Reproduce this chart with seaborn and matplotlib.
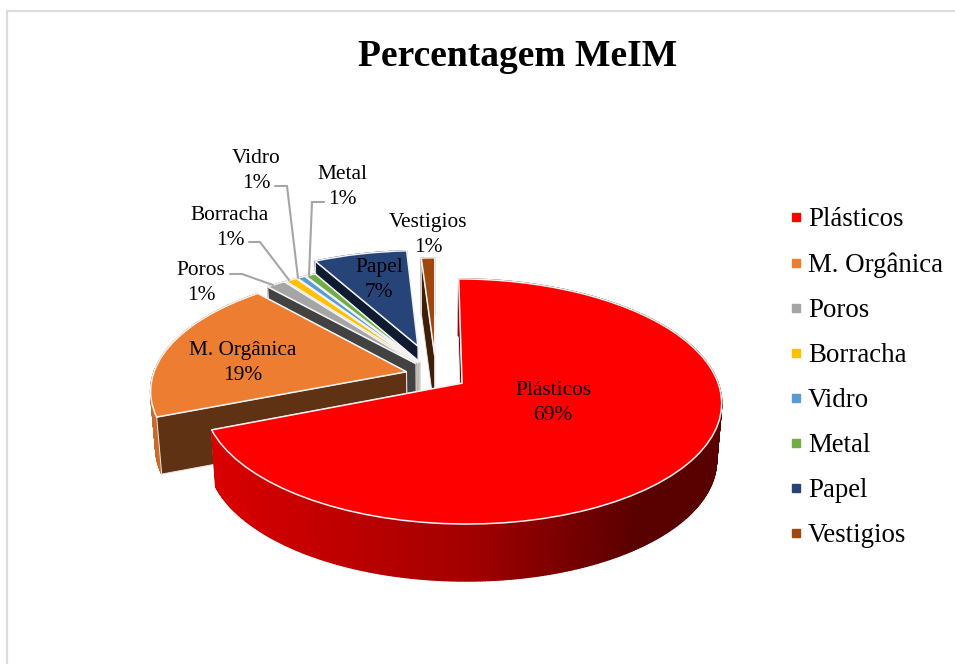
import numpy as np
import matplotlib
matplotlib.use("Agg")
import matplotlib.pyplot as plt
import seaborn as sns
from matplotlib.lines import Line2D
from matplotlib.transforms import Transform

categories = ["Plásticos", "M. Orgânica", "Poros", "Borracha", "Vidro", "Metal", "Papel", "Vestigios"]
percent = [69, 19.4, 1.4, 0.85, 0.6, 0.75, 7, 1]
explode = [0.123, 0.12, 0.127, 0.127, 0.127, 0.127, 0.266, 0.17]
colors = ["#ff0000", "#ed7d31", "#a5a5a5", "#ffc000", "#5b9bd5", "#70ad47", "#264478", "#9e480e"]
title = "Percentagem MeIM"

# where the labels sit, pixels
label_xy = [(553, 403), (243, 363), (201, 283), (230, 228), (256, 171), (342, 187), (379, 280), (428, 235)]
leaders = {
    2: [(230, 274), (242, 274), (273, 285)],
    3: [(249, 242), (260, 242), (289, 280)],
    4: [(275, 186), (287, 186), (298, 278)],
    5: [(324, 202), (312, 202), (309, 275)],
}

sns.set_theme(style="white")
plt.rcParams["font.family"] = ["Liberation Serif", "DejaVu Serif"]
palette = sns.color_palette(colors)

# camera of the tilted pie, pixels
CX, CY, RX, RY, K = 436, 375, 253.5, 117.4, 0.1475
DEPTH = 57
SHRINK = 0.982


def project(x, y, down=False):
    x, y = np.asarray(x, float), np.asarray(y, float)
    p = 1 / (1 + K * y)
    px = RX * x * p
    py = CY - RY * y * p
    if down:
        return CX + px * SHRINK, py + DEPTH
    return CX + px, py


class Tilt(Transform):
    input_dims = 2
    output_dims = 2

    def transform_non_affine(self, values):
        values = np.asarray(values)
        px, py = project(values[:, 0], values[:, 1])
        return np.column_stack([px, py])


def shade(rgb, f):
    return tuple(c * f for c in rgb)


fig = plt.figure(figsize=(9.55, 6.64), dpi=100, facecolor="white")
ax = fig.add_axes([0, 0, 1, 1])
wedges = ax.pie(percent, explode=explode, startangle=90, counterclock=False, colors=palette,
                wedgeprops=dict(edgecolor="#f4f4f4", linewidth=1.1))[0]
ax.set_aspect("auto")
ax.set_xlim(0, 955)
ax.set_ylim(664, 0)
ax.axis("off")

tilt = Tilt() + ax.transData

# back slices first so the nearer ones paint over them
for rank, i in enumerate(range(len(wedges) - 1, -1, -1)):
    w = wedges[i]
    z = 10 + rank * 3
    base = palette[i]
    x0, y0 = w.center
    t1, t2 = np.radians(w.theta1), np.radians(w.theta2)
    # a cut face shows in front of the rim only on the narrower slices
    face_z = z if w.theta2 - w.theta1 > 180 else z + 1.5

    for t in (t1, t2):
        xs, ys = [x0, x0 + np.cos(t)], [y0, y0 + np.sin(t)]
        ax_t, ay_t = project(xs, ys)
        ax_b, ay_b = project(xs, ys, down=True)
        ax.fill([ax_t[0], ax_t[1], ax_b[1], ax_b[0]], [ay_t[0], ay_t[1], ay_b[1], ay_b[0]],
                facecolor=shade(base, 0.4), edgecolor="#e8e8e8", linewidth=0.7, zorder=face_z)

    steps = max(int(np.degrees(t2 - t1)) * 2, 2)
    angles = np.linspace(t1, t2, steps + 1)
    for a, b in zip(angles[:-1], angles[1:]):
        xs, ys = [x0 + np.cos(a), x0 + np.cos(b)], [y0 + np.sin(a), y0 + np.sin(b)]
        ax_t, ay_t = project(xs, ys)
        ax_b, ay_b = project(xs, ys, down=True)
        f = np.interp(ax_t.mean(), [215, 470, 640], [0.85, 0.64, 0.35])
        col = shade(base, f)
        ax.fill([ax_t[0], ax_t[1], ax_b[1], ax_b[0]], [ay_t[0], ay_t[1], ay_b[1], ay_b[0]],
                facecolor=col, edgecolor=col, linewidth=1.0, zorder=z + 1)

    w.set_transform(tilt)
    w.set_zorder(z + 2)

for i, pts in leaders.items():
    ax.plot(*zip(*pts), color="#a6a6a6", lw=1.5, zorder=50, solid_joinstyle="miter")

for name, val, (lx, ly) in zip(categories, percent, label_xy):
    ax.text(lx, ly, f"{name}\n{val:.0f}%", ha="center", va="center", fontsize=15.4, color="black",
            linespacing=1.4, zorder=60)

ax.text(518, 57, title, ha="center", va="center", fontsize=27, fontweight="bold", color="black", zorder=60)

# chart border, only left and top show in the crop
ax.plot([7, 7, 955], [664, 11, 11], color="#dcdcdc", lw=1.6, zorder=1)

handles = [Line2D([], [], ls="", marker="s", markersize=5.8, color=c, label=n)
           for n, c in zip(categories, palette)]
ax.legend(handles=handles, loc="upper left", bbox_to_anchor=(783, 207.5), bbox_transform=ax.transData,
          frameon=False, fontsize=19.4, labelcolor="black", labelspacing=0.742, handlelength=1.0, handletextpad=-0.07,
          borderpad=0, borderaxespad=0)

fig.savefig("out.png", dpi=100)
